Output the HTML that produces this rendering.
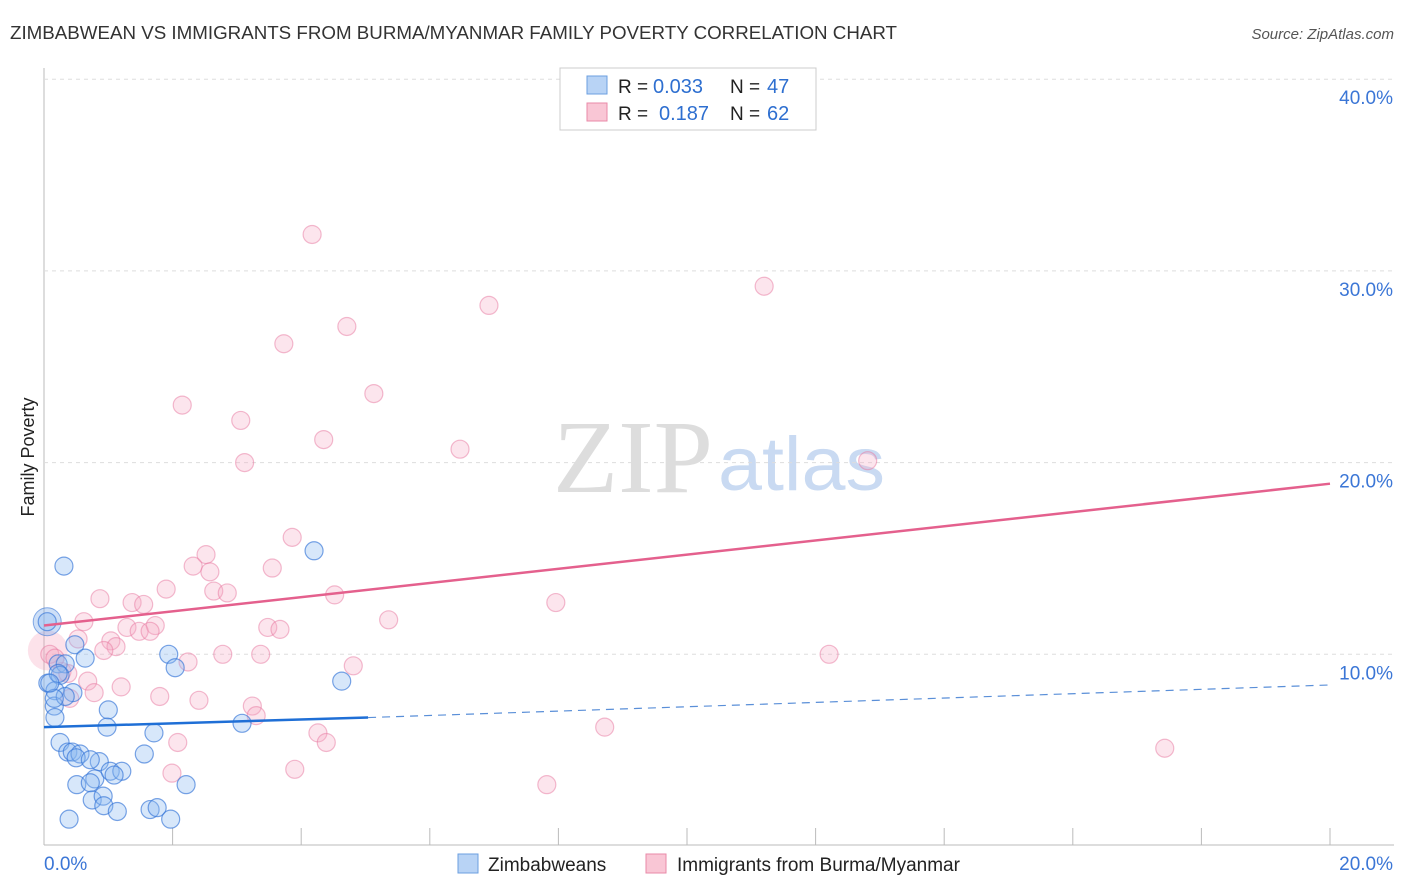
<!DOCTYPE html>
<html><head><meta charset="utf-8"><style>
body{margin:0;background:#fff;font-family:"Liberation Sans",sans-serif}
svg{display:block}
</style></head><body>
<svg width="1406" height="892" id="c">
<text x="10" y="39" font-size="18" fill="#333" textLength="887" lengthAdjust="spacingAndGlyphs">ZIMBABWEAN VS IMMIGRANTS FROM BURMA/MYANMAR FAMILY POVERTY CORRELATION CHART</text>
<text x="1394" y="39" font-size="15" fill="#555" font-style="italic" text-anchor="end">Source: ZipAtlas.com</text>
<text x="34" y="457" font-size="18" fill="#222" transform="rotate(-90 34 457)" text-anchor="middle">Family Poverty</text>
<text x="553" y="492" font-size="104" fill="#ddd" font-family="Liberation Serif,serif" textLength="160" lengthAdjust="spacingAndGlyphs">ZIP</text>
<text x="718" y="490" font-size="76" fill="#c9daf2" textLength="167" lengthAdjust="spacingAndGlyphs">atlas</text>
<g id="grid"></g><g id="marks"></g>
<g>
<rect x="560" y="68" width="256" height="62" fill="#fff" stroke="#ccc"/>
<rect x="587" y="76" width="20" height="18" fill="#b8d3f5" stroke="#6b9fe0"/>
<rect x="587" y="103" width="20" height="18" fill="#f9c6d5" stroke="#e98aa8"/>
<text x="618" y="93" font-size="19" fill="#222">R =</text><text x="653" y="93" font-size="20" fill="#2e6fd0">0.033</text>
<text x="730" y="93" font-size="19" fill="#222">N =</text><text x="767" y="93" font-size="20" fill="#2e6fd0">47</text>
<text x="618" y="120" font-size="19" fill="#222">R =</text><text x="659" y="120" font-size="20" fill="#2e6fd0">0.187</text>
<text x="730" y="120" font-size="19" fill="#222">N =</text><text x="767" y="120" font-size="20" fill="#2e6fd0">62</text>
</g>
<g>
<rect x="458" y="854" width="20" height="19" fill="#b8d3f5" stroke="#6b9fe0"/>
<text x="488" y="871" font-size="19" fill="#222">Zimbabweans</text>
<rect x="646" y="854" width="20" height="19" fill="#f9c6d5" stroke="#e98aa8"/>
<text x="677" y="871" font-size="19" fill="#222">Immigrants from Burma/Myanmar</text>
</g>
</svg>
<script>
const yTicks=[10,20,30,40];
const yTickLabels=["10.0%","20.0%","30.0%","40.0%"];
const blueX=[0.05,0.31,4.2,0.06,0.22,0.33,0.25,0.17,0.16,0.17,0.45,0.33,0.48,0.64,0.22,1.0,0.98,0.25,0.37,0.44,0.56,0.5,0.86,0.79,1.03,1.21,1.09,0.51,0.72,0.75,0.92,0.93,1.14,1.56,1.71,1.94,2.04,3.08,4.63,1.65,1.76,1.97,2.21,0.39,0.16,0.72,0.09];
const blueY=[11.7,14.6,15.4,8.5,9.5,9.5,8.9,8.1,7.3,6.7,8.0,7.8,10.5,9.8,9.0,7.1,6.2,5.4,4.9,4.9,4.8,4.6,4.4,3.5,3.9,3.9,3.7,3.2,3.3,2.4,2.6,2.1,1.8,4.8,5.9,10.0,9.3,6.4,8.6,1.9,2.0,1.4,3.2,1.4,7.7,4.5,8.5];
const pinkX=[4.17,6.92,11.2,4.71,3.73,2.15,3.06,5.13,4.35,6.47,3.12,12.81,3.86,2.52,2.32,2.58,3.55,2.64,2.85,1.9,0.87,1.37,1.55,4.52,7.96,0.62,1.73,1.29,1.48,1.65,3.48,3.67,5.36,1.04,1.12,0.93,0.53,2.78,3.37,2.24,4.81,12.21,0.28,0.37,0.68,1.2,1.8,2.41,0.78,0.4,3.24,3.3,4.26,4.39,2.08,8.72,3.9,1.99,7.82,17.43,0.09,0.17];
const pinkY=[31.9,28.2,29.2,27.1,26.2,23.0,22.2,23.6,21.2,20.7,20.0,20.1,16.1,15.2,14.6,14.3,14.5,13.3,13.2,13.4,12.9,12.7,12.6,13.1,12.7,11.7,11.5,11.4,11.2,11.2,11.4,11.3,11.8,10.7,10.4,10.2,10.8,10.0,10.0,9.6,9.4,10.0,9.1,9.0,8.6,8.3,7.8,7.6,8.0,7.7,7.3,6.8,5.9,5.4,5.4,6.2,4.0,3.8,3.2,5.1,10.0,9.8];
const blueTrend=[[0,6.2],[5.04,6.7],[20,8.4]];
const pinkTrend=[[0,11.5],[20,18.9]];
const ns="http://www.w3.org/2000/svg";
const sx=v=>44+v/20*1286, sy=v=>846-v*19.17;
function mk(t,a,p){const e=document.createElementNS(ns,t);for(const k in a)e.setAttribute(k,a[k]);p.appendChild(e);return e;}
const g=document.getElementById('grid'),m=document.getElementById('marks');
mk('line',{x1:44,y1:68,x2:44,y2:845,stroke:'#bbb'},g);
mk('line',{x1:44,y1:845,x2:1394,y2:845,stroke:'#bbb'},g);
yTicks.forEach((t,i)=>{
 const l=mk('line',{x1:44,y1:sy(t),x2:1394,y2:sy(t),stroke:'#ddd','stroke-dasharray':'4,4'},g);
 
 
 const tx=mk('text',{x:1393,y:sy(t)+25,'font-size':19,fill:'#3b76d6','text-anchor':'end'},g);
 tx.textContent=yTickLabels[i];
 
 
});
for(let i=1;i<=10;i++){const l=mk('line',{x1:sx(i*2),y1:828,x2:sx(i*2),y2:845,stroke:'#bbb'},g);
 
 }
const x0=mk('text',{x:44,y:870,'font-size':19,fill:'#3b76d6'},g);x0.textContent='0.0%';


const x1=mk('text',{x:1393,y:870,'font-size':19,fill:'#3b76d6','text-anchor':'end'},g);x1.textContent='20.0%';


const bp=mk('circle',{cx:sx(0.06),cy:sy(10.2),r:20,fill:'rgba(244,160,185,0.3)'},m);


pinkX.forEach((x,i)=>{const c=mk('circle',{cx:sx(x),cy:sy(pinkY[i]),r:9,fill:'rgba(246,170,195,0.3)',stroke:'rgba(232,120,160,0.5)','stroke-width':1.2},m);
 
 });
const bb=mk('circle',{cx:sx(0.05),cy:sy(11.7),r:14,fill:'rgba(130,175,235,0.4)',stroke:'rgba(60,120,215,0.6)'},m);


blueX.forEach((x,i)=>{const c=mk('circle',{cx:sx(x),cy:sy(blueY[i]),r:9,fill:'rgba(140,185,240,0.35)',stroke:'rgba(50,115,215,0.65)','stroke-width':1.2},m);
 
 });
const pl=mk('line',{x1:sx(pinkTrend[0][0]),y1:sy(pinkTrend[0][1]),x2:sx(pinkTrend[1][0]),y2:sy(pinkTrend[1][1]),stroke:'#e4608d','stroke-width':2.5},m);


const b1=mk('line',{x1:sx(blueTrend[0][0]),y1:sy(blueTrend[0][1]),x2:sx(blueTrend[1][0]),y2:sy(blueTrend[1][1]),stroke:'#1f6fd6','stroke-width':2.5},m);


const b2=mk('line',{x1:sx(blueTrend[1][0]),y1:sy(blueTrend[1][1]),x2:sx(blueTrend[2][0]),y2:sy(blueTrend[2][1]),stroke:'#5a8fd8','stroke-width':1.2,'stroke-dasharray':'8,6'},m);


</script>
</body></html>
